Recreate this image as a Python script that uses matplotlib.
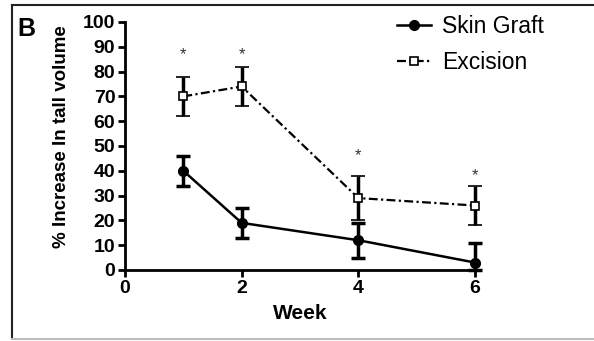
import matplotlib
matplotlib.use("Agg")
import matplotlib.pyplot as plt
from matplotlib.lines import Line2D

plt.rcParams["font.family"] = ["Liberation Sans", "DejaVu Sans"]

# Data
weeks = [1, 2, 4, 6]
graft_mean = [40, 19, 12, 3]
graft_lo = [6, 6, 7, 3]
graft_hi = [6, 6, 7, 8]
excision_mean = [70, 74, 29, 26]
excision_err = [8, 8, 9, 8]
star_y = [87, 87, 46, 38]

xticks = [0, 2, 4, 6]
yticks = list(range(0, 101, 10))

fig = plt.figure(figsize=(5.94, 3.41), dpi=100)
ax = fig.add_axes([125 / 594, 1 - 270 / 341, 350 / 594, 248 / 341])

excision_ls = (0, (4, 1.5, 1, 1.5))

# Skin graft: solid line, filled circles
ax.errorbar(weeks, graft_mean, yerr=[graft_lo, graft_hi], color="black",
            lw=1.8, marker="o", markersize=7, elinewidth=2.5, capsize=5,
            capthick=2.5, clip_on=False, zorder=3)

# Excision: dash-dot line, open squares
ax.errorbar(weeks, excision_mean, yerr=excision_err, color="black",
            lw=1.6, ls=excision_ls, marker="s", markersize=6,
            markerfacecolor="white", markeredgewidth=1.2, elinewidth=2.5,
            capsize=5, capthick=2.5, clip_on=False, zorder=3)

for w, s in zip(weeks, star_y):
    ax.text(w, s, "*", ha="center", va="center", fontsize=12, color="#333333")

ax.set_xlim(0, 6)
ax.set_ylim(0, 100)
ax.set_xticks(xticks)
ax.set_yticks(yticks)
ax.spines["top"].set_visible(False)
ax.spines["right"].set_visible(False)
for side in ["left", "bottom"]:
    ax.spines[side].set_linewidth(2)
ax.tick_params(direction="out", length=5, width=2, labelsize=14, pad=2)
for lbl in ax.get_xticklabels() + ax.get_yticklabels():
    lbl.set_fontweight("bold")

ax.set_xlabel("Week", fontsize=15, fontweight="bold", labelpad=5)
ax.set_ylabel("% Increase In tall volume", fontsize=13.5, fontweight="bold")
ax.yaxis.set_label_coords(-0.157, 0.536)

handles = [
    Line2D([], [], color="black", lw=1.8, marker="o", markersize=7),
    Line2D([], [], color="black", lw=1.6, ls=excision_ls, marker="s",
           markersize=6, markerfacecolor="white", markeredgewidth=1.2),
]
ax.legend(handles, ["Skin Graft", "Excision"], loc="upper left",
          bbox_to_anchor=(376 / 594, 1 + 6 / 341),
          bbox_transform=fig.transFigure, frameon=False, fontsize=16.5,
          handlelength=1.5, handletextpad=0.5, labelspacing=0.6)

fig.text(17 / 594, 1 - 29 / 341, "B", fontsize=18, fontweight="bold",
         ha="left", va="center")

# outer panel frame
fig.add_artist(Line2D([12 / 594, 12 / 594], [1 - 5 / 341, 1 - 339 / 341],
                      transform=fig.transFigure, color="#222222", lw=1.5))
fig.add_artist(Line2D([12 / 594, 1], [1 - 5 / 341, 1 - 5 / 341],
                      transform=fig.transFigure, color="#222222", lw=1.5))
fig.add_artist(Line2D([12 / 594, 1], [1 - 339 / 341, 1 - 339 / 341],
                      transform=fig.transFigure, color="#bbbbbb", lw=1.5))

fig.savefig("out.png", dpi=100)
